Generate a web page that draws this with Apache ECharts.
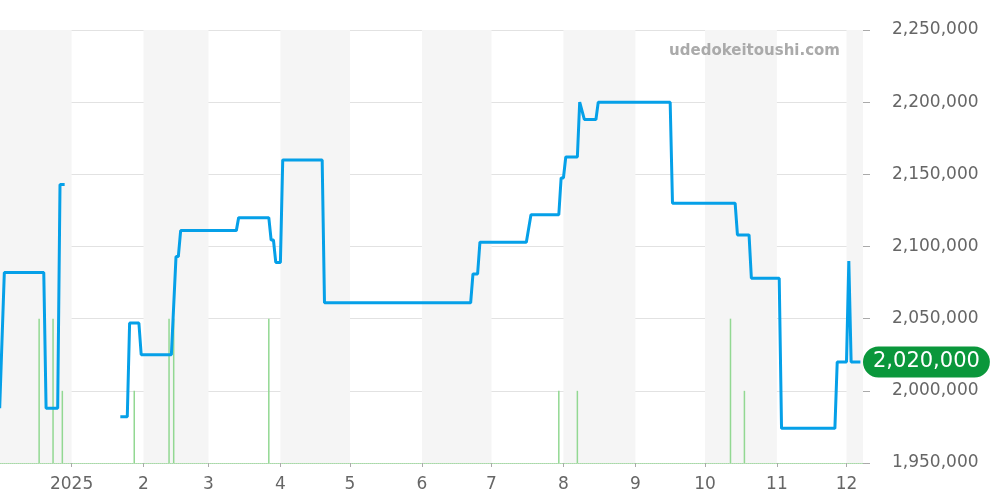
<!DOCTYPE html>
<html>
<head>
<meta charset="utf-8">
<style>html,body{margin:0;padding:0;background:#fff;}#chart{width:1000px;height:500px;}</style>
<script src="https://cdn.jsdelivr.net/npm/echarts@6/dist/echarts.min.js"></script>
</head>
<body>
<div id="chart"></div>
<script>
// ---- data ----
const priceDates = ['2024-12-01','2024-12-03','2024-12-20','2024-12-21','2024-12-26','2024-12-27','2024-12-29','2025-01-10','2025-01-22','2025-01-25','2025-01-26','2025-01-30','2025-01-31','2025-02-13','2025-02-15','2025-02-16','2025-02-17','2025-03-13','2025-03-14','2025-03-27','2025-03-28','2025-03-29','2025-03-30','2025-04-01','2025-04-02','2025-04-19','2025-04-20','2025-06-22','2025-06-23','2025-06-25','2025-06-26','2025-07-16','2025-07-18','2025-07-30','2025-07-31','2025-08-01','2025-08-02','2025-08-07','2025-08-08','2025-08-10','2025-08-15','2025-08-16','2025-09-16','2025-09-17','2025-10-14','2025-10-15','2025-10-20','2025-10-21','2025-11-02','2025-11-03','2025-11-26','2025-11-27','2025-12-01','2025-12-02','2025-12-03','2025-12-07'];
const priceValues = [1988000,2082000,2082000,1988000,1988000,2143000,2143000,null,1982000,1982000,2047000,2047000,2025000,2025000,2093000,2093000,2111000,2111000,2120000,2120000,2104500,2104500,2089000,2089000,2160000,2160000,2061000,2061000,2081000,2081000,2103000,2103000,2122000,2122000,2147500,2147500,2162000,2162000,2200000,2188000,2188000,2200000,2200000,2130000,2130000,2108000,2108000,2078000,2078000,1974000,1974000,2020000,2020000,2090000,2020000,2020000];
const volumeDates = ['2024-12-18','2024-12-24','2024-12-28','2025-01-28','2025-02-12','2025-02-14','2025-03-27','2025-07-30','2025-08-07','2025-10-12','2025-10-18'];
const volumeValues = [2,2,1,1,2,2,2,1,1,2,1];
const currentPrice = 2020000;
const yTickMin = 1950000, yTickMax = 2250000, yTickStep = 50000;
const xStart = '2024-12-01 11:00:00', xEnd = '2025-12-07 19:00:00';
const watermark = 'udedokeitoushi.com';

const DAY = 86400000;
const chart = echarts.init(document.getElementById('chart'));
const font = 'DejaVu Sans';
chart.setOption({
  animation: false,
  backgroundColor: '#fff',
  grid: { left: 0, right: 137, top: 30, bottom: 37, containLabel: false },
  xAxis: {
    type: 'time',
    min: xStart, max: xEnd,
    splitNumber: 12,
    minInterval: 28 * DAY,
    maxInterval: 31 * DAY,
    axisLine: { show: true, lineStyle: { color: '#a6dba6', type: 'dotted', width: 1 } },
    axisTick: { show: true, length: 4, lineStyle: { color: '#aaa' } },
    axisLabel: {
      color: '#666', fontSize: 17, fontFamily: font, margin: 13,
      formatter: function (v) { const d = new Date(v); return d.getMonth() === 0 ? String(d.getFullYear()) : String(d.getMonth() + 1); }
    },
    splitLine: { show: false },
    splitArea: { show: true, areaStyle: { color: ['#f5f5f5', 'rgba(255,255,255,0)'] } }
  },
  yAxis: [{
    type: 'value', position: 'right',
    min: yTickMin, max: yTickMax, interval: yTickStep,
    axisLine: { show: false },
    axisTick: { show: true, length: 7, lineStyle: { color: '#aaa' } },
    axisLabel: { color: '#666', fontSize: 17, fontFamily: font, margin: 29, padding: [3, 0, 0, 0],
      formatter: v => v.toLocaleString('en-US') },
    splitLine: { show: true, lineStyle: { color: '#e2e2e2', width: 1 } }
  }, {
    type: 'value', min: 0, max: 6, show: false, splitLine: { show: false }
  }],
  graphic: [{
    type: 'text', right: 160, top: 44, z: 10,
    style: { text: watermark, fill: '#aaaaaa', font: 'bold 15px "DejaVu Sans"' }
  }],
  series: [{
    type: 'bar', yAxisIndex: 1, barWidth: 1.5,
    itemStyle: { color: '#92d892' },
    data: volumeDates.map((d, i) => [d, volumeValues[i]]),
    z: 1
  }, {
    type: 'line', yAxisIndex: 0,
    data: priceDates.map((d, i) => [d, priceValues[i]]),
    showSymbol: false, symbol: 'none',
    connectNulls: false,
    lineStyle: { color: '#05a0e8', width: 3 },
    itemStyle: { color: '#05a0e8' },
    z: 3,
    markLine: {
      silent: true, symbol: 'none', z: 20,
      lineStyle: { color: 'rgba(0,0,0,0)', width: 0, type: 'solid' },
      emphasis: { disabled: true },
      data: [{ yAxis: currentPrice }],
      label: {
        show: true, position: 'end', distance: 0,
        formatter: () => currentPrice.toLocaleString('en-US'),
        color: '#fff', fontSize: 21, fontFamily: font,
        backgroundColor: '#0a973b', borderRadius: 16,
        padding: [5, 10, 5, 10]
      }
    }
  }]
});
</script>
</body>
</html>
